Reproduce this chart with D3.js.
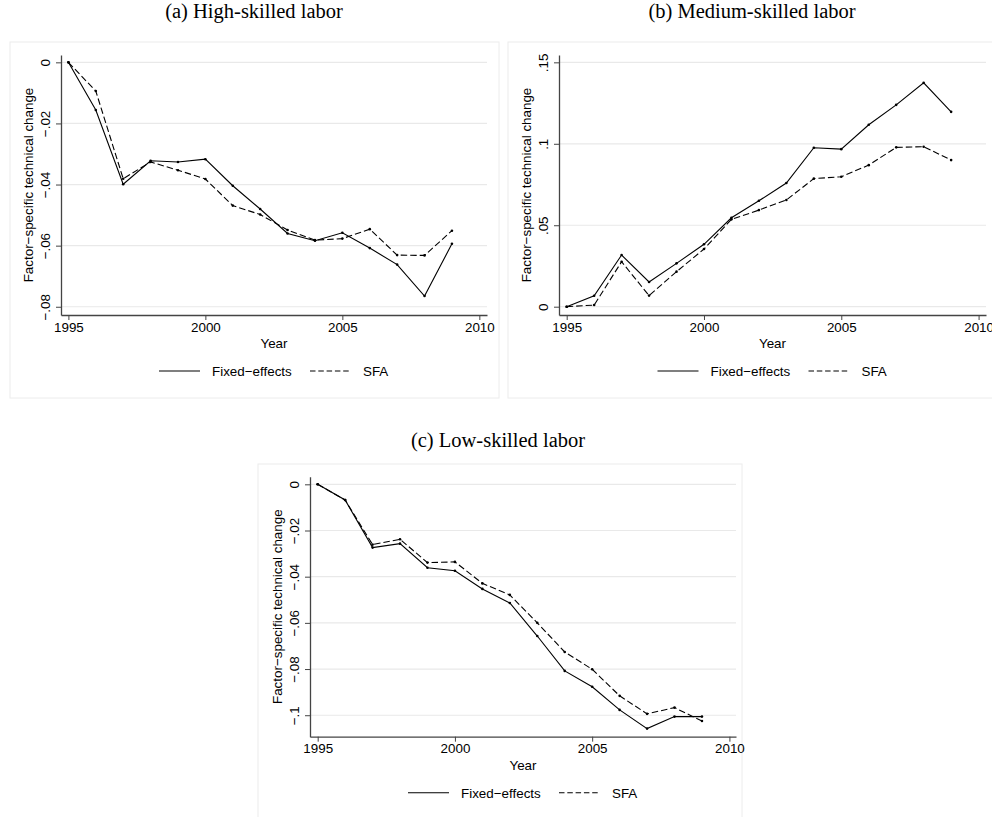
<!DOCTYPE html>
<html>
<head>
<meta charset="utf-8">
<script src="https://cdn.jsdelivr.net/npm/d3@7/dist/d3.min.js"></script>
<style>
  body { margin: 0; background: #fff; }
  svg { display: block; }
</style>
</head>
<body>
<svg id="chart" width="992" height="817"></svg>
<script>
// years on the x axis
const years = [1995, 1996, 1997, 1998, 1999, 2000, 2001, 2002, 2003, 2004, 2005, 2006, 2007, 2008, 2009];
const yearTicks = [1995, 2000, 2005, 2010];

// (a) high-skilled labor
const highFE  = [0, -0.0156, -0.0399, -0.0322, -0.0326, -0.0317, -0.0404, -0.0480, -0.0560, -0.0584, -0.0558, -0.0608, -0.0662, -0.0765, -0.0594];
const highSFA = [0, -0.0094, -0.0381, -0.0326, -0.0353, -0.0382, -0.0469, -0.0498, -0.0549, -0.0582, -0.0577, -0.0546, -0.0631, -0.0632, -0.0551];
const highTicks = [0, -0.02, -0.04, -0.06, -0.08];

// (b) medium-skilled labor
const medFE  = [0, 0.0067, 0.0317, 0.0152, 0.0266, 0.0383, 0.0546, 0.0650, 0.0759, 0.0976, 0.0967, 0.1117, 0.1239, 0.1374, 0.1196];
const medSFA = [0, 0.0010, 0.0276, 0.0068, 0.0215, 0.0354, 0.0536, 0.0593, 0.0655, 0.0786, 0.0798, 0.0869, 0.0978, 0.0982, 0.0900];
const medTicks = [0, 0.05, 0.1, 0.15];

// (c) low-skilled labor
const lowFE  = [0, -0.0068, -0.0274, -0.0257, -0.0361, -0.0374, -0.0453, -0.0514, -0.0657, -0.0808, -0.0877, -0.0977, -0.1058, -0.1006, -0.1006];
const lowSFA = [0, -0.0068, -0.0261, -0.0238, -0.0339, -0.0336, -0.0429, -0.0479, -0.0600, -0.0726, -0.0801, -0.0916, -0.0994, -0.0967, -0.1025];
const lowTicks = [0, -0.02, -0.04, -0.06, -0.08, -0.1];

const seriesNames = ["Fixed\u2212effects", "SFA"];
const yTitle = "Factor\u2212specific technical change";
const xTitle = "Year";

const SANS = "'Liberation Sans', Arial, Helvetica, sans-serif";
const SERIF = "'Liberation Serif', 'Times New Roman', serif";
const FS = 13.4;

const svg = d3.select("#chart");

// stata style tick label: 0, -.02, .15
function stataFormat(v) {
  if (v === 0) return "0";
  const s = Math.abs(v).toString().replace(/^0/, "");
  return (v < 0 ? "\u2212" : "") + s;
}

function drawPanel(cfg) {
  const g = svg.append("g");

  // panel frame
  g.append("rect")
    .attr("x", cfg.box[0]).attr("y", cfg.box[1])
    .attr("width", cfg.box[2]).attr("height", cfg.box[3])
    .attr("fill", "#fff")
    .attr("stroke", "#ececec")
    .attr("stroke-width", 1);

  // title
  g.append("text")
    .attr("x", cfg.titleX).attr("y", cfg.titleY)
    .attr("text-anchor", "middle")
    .style("font-family", SERIF)
    .style("font-size", "20.5px")
    .text(cfg.title);

  const x = d3.scaleLinear().domain(cfg.xDomain).range([cfg.left, cfg.left + cfg.width]);
  const y = d3.scaleLinear().domain(cfg.yDomain).range([cfg.top + cfg.height, cfg.top]);
  const bottom = cfg.top + cfg.height;

  // horizontal grid
  g.append("g").selectAll("line")
    .data(cfg.yTicks)
    .join("line")
    .attr("x1", cfg.left).attr("x2", cfg.left + cfg.width)
    .attr("y1", d => y(d)).attr("y2", d => y(d))
    .attr("stroke", "#e9e9e9")
    .attr("stroke-width", 1.2);

  // x axis
  const xAxis = g.append("g")
    .attr("transform", `translate(0,${bottom})`)
    .call(d3.axisBottom(x).tickValues(yearTicks).tickFormat(d3.format("d"))
      .tickSize(5).tickSizeOuter(0).tickPadding(2));
  xAxis.select(".domain").attr("stroke", "#444").attr("stroke-width", 1.3);
  xAxis.selectAll(".tick line").attr("stroke", "#444").attr("stroke-width", 1);
  xAxis.selectAll("text")
    .style("font-family", SANS).style("font-size", FS + "px").attr("fill", "#000");

  // y axis, labels rotated like stata
  const yAxis = g.append("g")
    .attr("transform", `translate(${cfg.left},0)`)
    .call(d3.axisLeft(y).tickValues(cfg.yTicks).tickFormat(stataFormat)
      .tickSize(5).tickSizeOuter(0));
  yAxis.select(".domain").attr("stroke", "#444").attr("stroke-width", 1.3);
  yAxis.selectAll(".tick line").attr("stroke", "#444").attr("stroke-width", 1);
  yAxis.selectAll("text")
    .attr("x", 0).attr("y", 0).attr("dy", 0)
    .attr("transform", "translate(-11,0) rotate(-90)")
    .attr("text-anchor", "middle")
    .attr("fill", "#000")
    .style("font-family", SANS).style("font-size", FS + "px");

  // axis titles
  g.append("text")
    .attr("transform", `translate(${cfg.left - 28},${cfg.top + cfg.height / 2}) rotate(-90)`)
    .attr("text-anchor", "middle")
    .style("font-family", SANS).style("font-size", FS + "px")
    .text(yTitle);

  const midX = cfg.left + cfg.width / 2;
  g.append("text")
    .attr("x", midX).attr("y", bottom + 33)
    .attr("text-anchor", "middle")
    .style("font-family", SANS).style("font-size", FS + "px")
    .text(xTitle);

  // series
  const line = d3.line().x((d, i) => x(years[i])).y(d => y(d));
  const series = [
    { values: cfg.fe, dash: null },
    { values: cfg.sfa, dash: "6.5,3" }
  ];
  series.forEach(s => {
    g.append("path")
      .datum(s.values)
      .attr("d", line)
      .attr("fill", "none")
      .attr("stroke", "#000")
      .attr("stroke-width", 1.1)
      .attr("stroke-dasharray", s.dash);
    g.append("g").selectAll("circle")
      .data(s.values)
      .join("circle")
      .attr("cx", (d, i) => x(years[i]))
      .attr("cy", d => y(d))
      .attr("r", 1.3)
      .attr("fill", "#000");
  });

  // legend
  const ly = bottom + 56;
  const legend = g.append("g").attr("transform", `translate(${midX},${ly})`);
  const items = [
    { x0: -115, x1: -74, tx: -62, dash: null, name: seriesNames[0] },
    { x0: 36, x1: 75, tx: 89, dash: "5.5,2.8", name: seriesNames[1] }
  ];
  items.forEach(it => {
    legend.append("line")
      .attr("x1", it.x0).attr("x2", it.x1)
      .attr("y1", 0).attr("y2", 0)
      .attr("stroke", "#000").attr("stroke-width", 1.1)
      .attr("stroke-dasharray", it.dash);
    legend.append("text")
      .attr("x", it.tx).attr("y", 4.8)
      .style("font-family", SANS).style("font-size", FS + "px")
      .text(it.name);
  });
}

drawPanel({
  box: [10, 42, 489, 356],
  title: "(a) High-skilled labor", titleX: 254, titleY: 18,
  left: 61, top: 55, width: 426, height: 260,
  xDomain: [1994.73, 2010.28], yDomain: [-0.0827, 0.0024],
  yTicks: highTicks, fe: highFE, sfa: highSFA
});

drawPanel({
  box: [508, 42, 492, 356],
  title: "(b) Medium-skilled labor", titleX: 752, titleY: 18,
  left: 559, top: 55, width: 427, height: 260,
  xDomain: [1994.72, 2010.27], yDomain: [-0.0051, 0.1545],
  yTicks: medTicks, fe: medFE, sfa: medSFA
});

drawPanel({
  box: [258, 464, 484, 360],
  title: "(c) Low-skilled labor", titleX: 498, titleY: 447,
  left: 310, top: 476.7, width: 426, height: 260,
  xDomain: [1994.72, 2010.24], yDomain: [-0.1093, 0.0033],
  yTicks: lowTicks, fe: lowFE, sfa: lowSFA
});
</script>
</body>
</html>
